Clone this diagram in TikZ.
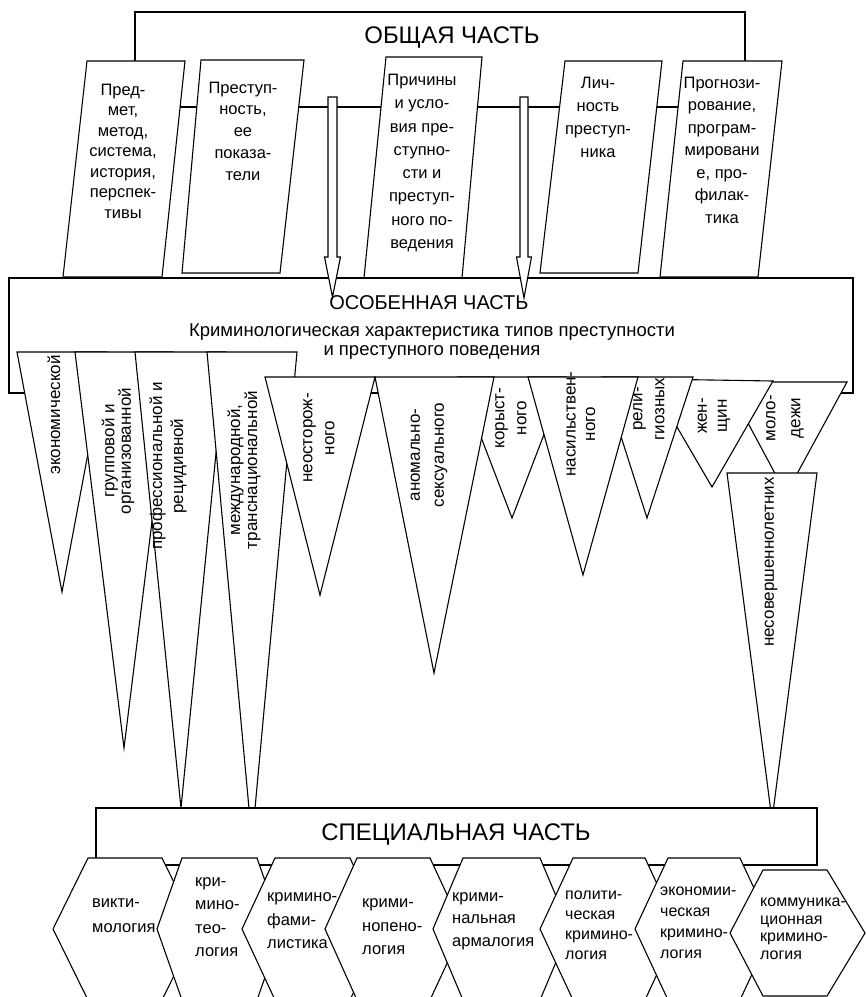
\documentclass[tikz,border=0pt]{standalone}
\usepackage{fontspec}
\setmainfont{Liberation Sans}
\newcommand\myfs[2]{\fontsize{#1}{#2}\selectfont}
\begin{document}
\begin{tikzpicture}[x=1pt,y=-1pt,
  shp/.style={draw, fill=white, line width=1.1pt, line join=miter},
  frm/.style={draw, line width=1.1pt},
  txt/.style={inner sep=0pt, align=center},
  rtxt/.style={inner sep=0pt, align=center, rotate=90},
  htxt/.style={inner sep=0pt, align=left, anchor=west}]
\fill[white] (0,0) rectangle (866,997);
\useasboundingbox (0,0) rectangle (866,997);

% ---- general part frame and topic parallelograms
\draw[frm] (135,12) rectangle (745,107);
\draw[shp] (87,61) -- (185,61) -- (162,277) -- (63,277) -- cycle;
\draw[shp] (201,60) -- (304,60) -- (280,273) -- (182,273) -- cycle;
\draw[shp] (386,57) -- (482,57) -- (462,278) -- (364,278) -- cycle;
\draw[shp] (565,61) -- (662,61) -- (638,273) -- (540,273) -- cycle;
\draw[shp] (683,61) -- (782,61) -- (758,277) -- (660,277) -- cycle;

% ---- special part box
\draw[shp] (9,278) rectangle (853,393);

% ---- hollow arrows
\draw[shp] (328,97) -- (337,97) -- (337,257) -- (340.5,257) -- (332.5,297) -- (324.5,257) -- (328,257) -- cycle;
\draw[shp] (520,97) -- (528,97) -- (528,257) -- (531.5,257) -- (524,298) -- (516.5,257) -- (520,257) -- cycle;

% ---- triangles (types of crime)
\draw[shp] (17,352) -- (107,352) -- (62,592) -- cycle;
\draw[shp] (75,352) -- (173,352) -- (124,748) -- cycle;
\draw[shp] (135,352) -- (226,352) -- (181,808) -- cycle;
\draw[shp] (207,352) -- (297,352) -- (252,841) -- cycle;
\draw[shp] (265,377) -- (375,377) -- (320,595) -- cycle;
\draw[shp] (458,377) -- (566,377) -- (512,518) -- cycle;
\draw[shp] (375,377) -- (494,377) -- (434,673) -- cycle;
\draw[shp] (726,382) -- (847,382) -- (786,494) -- cycle;
\draw[shp] (649,379) -- (773,381) -- (712,487) -- cycle;
\draw[shp] (602,377) -- (693,377) -- (647,518) -- cycle;
\draw[shp] (528,377) -- (638,377) -- (583,575) -- cycle;
\draw[shp] (727,473) -- (817,473) -- (772,820) -- cycle;

% ---- special part
\draw[shp] (96,808) rectangle (817,865);

% ---- hexagons
\draw[shp] (88,858) -- (162,858) -- (197,929) -- (162,1000) -- (88,1000) -- (53,929) -- cycle;
\draw[shp] (182,858) -- (257,858) -- (282,929) -- (257,1000) -- (182,1000) -- (157,929) -- cycle;
\draw[shp] (275,858) -- (350,858) -- (383,929) -- (350,1000) -- (275,1000) -- (242,929) -- cycle;
\draw[shp] (357,858) -- (430,858) -- (463,929) -- (430,1000) -- (357,1000) -- (325,929) -- cycle;
\draw[shp] (463,858) -- (540,858) -- (570,929) -- (540,1000) -- (463,1000) -- (433,929) -- cycle;
\draw[shp] (573,858) -- (645,858) -- (678,929) -- (645,1000) -- (573,1000) -- (540,929) -- cycle;
\draw[shp] (668,858) -- (740,858) -- (773,929) -- (740,1000) -- (668,1000) -- (635,929) -- cycle;
\draw[shp] (763,870) -- (827,870) -- (865,933) -- (827,996) -- (763,996) -- (730,933) -- cycle;

% ---- texts
\node[txt, font=\myfs{24}{28}] (obsh) at (452,38) {ОБЩАЯ ЧАСТЬ};
\node[txt, font=\myfs{16.5}{20.5}] (p1) at (123,151) {Пред-\\мет,\\метод,\\система,\\история,\\перспек-\\тивы};
\node[txt, font=\myfs{16.5}{21.7}] (p2) at (243,131) {Преступ-\\ность,\\ее\\показа-\\тели};
\node[txt, font=\myfs{16.5}{23.3}] (p3) at (422,163) {Причины\\и усло-\\вия пре-\\ступно-\\сти и\\преступ-\\ного по-\\ведения};
\node[txt, font=\myfs{16.5}{23}] (p4) at (598,117) {Лич-\\ность\\преступ-\\ника};
\node[txt, font=\myfs{16.5}{22.5}] (p5) at (722,150) {Прогнози-\\рование,\\програм-\\мировани\\е, про-\\филак-\\тика};

\node[txt, font=\myfs{20}{24}] (osob) at (429,303) {ОСОБЕННАЯ ЧАСТЬ};
\node[txt, font=\myfs{18.5}{22}] (osob2) at (432,332) {Криминологическая характеристика типов преступности};
\node[txt, font=\myfs{18.5}{22}] (osob3) at (432,352) {и преступного поведения};

\node[rtxt, font=\myfs{17}{20}] (t1) at (54,415) {экономической};
\node[rtxt, font=\myfs{17}{16.5}] (t2) at (118,451) {групповой и\\организованной};
\node[rtxt, font=\myfs{17}{21}] (t3) at (168,466) {профессиональной и\\рецидивной};
\node[rtxt, font=\myfs{17}{17}] (t4) at (244,470) {международной,\\транснациональной};
\node[rtxt, font=\myfs{17}{22}] (t5) at (319,438) {неосторож-\\ного};
\node[rtxt, font=\myfs{17}{24}] (t6) at (429,455) {аномально-\\сексуального};
\node[rtxt, font=\myfs{17}{22}] (t7) at (511,418) {корыст-\\ного};
\node[rtxt, font=\myfs{17}{19.5}] (t8) at (581,424) {насильствен-\\ного};
\node[rtxt, font=\myfs{17}{22}] (t9) at (649,409) {рели-\\гиозных};
\node[rtxt, font=\myfs{17}{20}] (t10) at (714,416) {жен-\\щин};
\node[rtxt, font=\myfs{17}{25}] (t11) at (785,418) {моло-\\дежи};
\node[rtxt, font=\myfs{17}{20}] (t12) at (771,562) {несовершеннолетних};

\node[txt, font=\myfs{24}{28}] (spec) at (456,835) {СПЕЦИАЛЬНАЯ ЧАСТЬ};

\node[htxt, font=\myfs{16.5}{25}] (h1) at (92,916) {викти-\\мология};
\node[htxt, font=\myfs{16.5}{23.3}] (h2) at (195,917) {кри-\\мино-\\тео-\\логия};
\node[htxt, font=\myfs{16.5}{23.5}] (h3) at (267,921) {кримино-\\фами-\\листика};
\node[htxt, font=\myfs{16.5}{23.5}] (h4) at (362,927) {крими-\\нопено-\\логия};
\node[htxt, font=\myfs{16.5}{22.5}] (h5) at (452,921) {крими-\\нальная\\армалогия};
\node[htxt, font=\myfs{16}{20}] (h6) at (565,925) {полити-\\ческая\\кримино-\\логия};
\node[htxt, font=\myfs{16}{21}] (h7) at (660,923) {экономии-\\ческая\\кримино-\\логия};
\node[htxt, font=\myfs{16}{17.5}] (h8) at (760,929) {коммуника-\\ционная\\кримино-\\логия};
\end{tikzpicture}
\end{document}
